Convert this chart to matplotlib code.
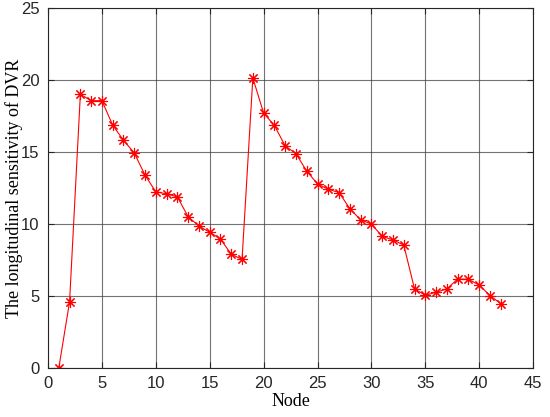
import matplotlib
matplotlib.use('Agg')
import matplotlib.pyplot as plt

# Longitudinal sensitivity of DVR per node
nodes = list(range(1, 43))
sensitivity = [0.0, 4.6, 19.0, 18.56, 18.56, 16.86, 15.81, 14.93, 13.39, 12.23,
               12.09, 11.88, 10.5, 9.86, 9.42, 8.95, 7.9, 7.54, 20.14, 17.7,
               16.84, 15.42, 14.88, 13.67, 12.78, 12.41, 12.18, 11.06, 10.28, 10.0,
               9.14, 8.89, 8.54, 5.49, 5.05, 5.26, 5.49, 6.18, 6.16, 5.76,
               5.03, 4.46]
x_ticks = list(range(0, 46, 5))
y_ticks = list(range(0, 26, 5))

fig = plt.figure(figsize=(5.5, 4.17), dpi=100)
ax = fig.add_axes([0.0873, 0.1175, 0.882, 0.8635])

# matlab style '*' marker: 8-spoke asterisk
ax.plot(nodes, sensitivity, color='red', linewidth=0.8, marker=(8, 2, 0),
        markersize=8, markeredgewidth=0.8)

ax.set_xlim(0, 45)
ax.set_ylim(0, 25)
ax.set_xticks(x_ticks)
ax.set_yticks(y_ticks)
ax.grid(True, color='#444444', linewidth=0.8, alpha=0.75)
ax.tick_params(direction='in', top=True, right=True, length=4, pad=6,
               labelsize=12, colors='#262626')
for lbl in ax.get_xticklabels() + ax.get_yticklabels():
    lbl.set_family('Liberation Sans')
for sp in ax.spines.values():
    sp.set_color('#262626')
    sp.set_linewidth(0.8)

ax.set_xlabel('Node', family='Liberation Serif', fontsize=13, labelpad=1)
ax.set_ylabel('The longitudinal sensitivity of DVR', family='Liberation Serif',
              fontsize=13)
ax.yaxis.set_label_coords(-0.052, 0.5)

fig.savefig('out.png', dpi=100)
